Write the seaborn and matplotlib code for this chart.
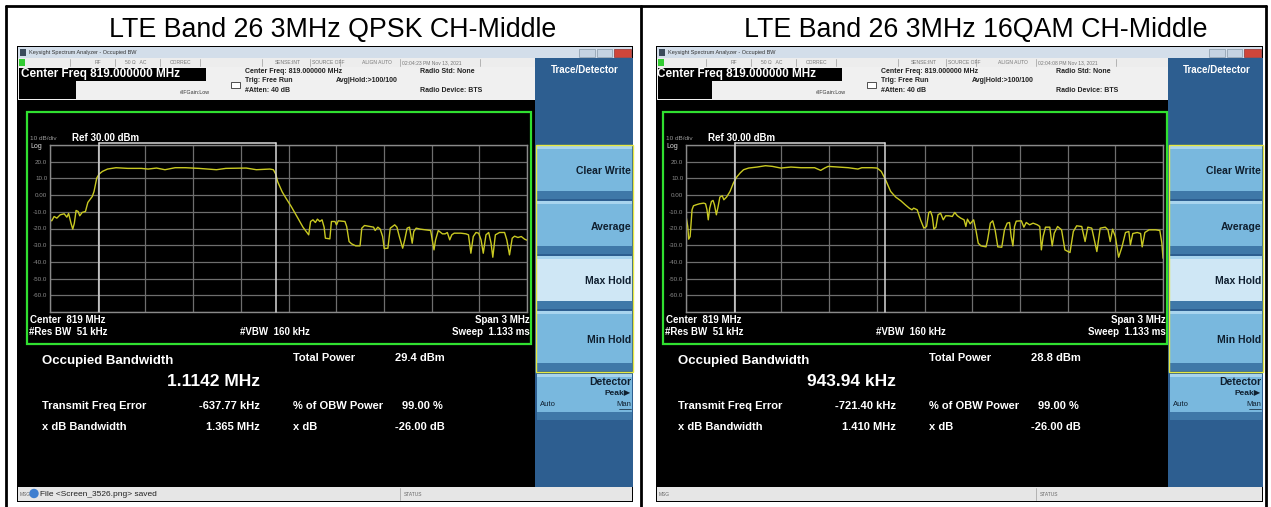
import numpy as np
import pandas as pd
import seaborn as sns
import matplotlib.pyplot as plt
from matplotlib.patches import Rectangle, Circle

sns.set_theme(style='dark')
plt.rcParams['font.family'] = ['Liberation Sans', 'DejaVu Sans']

# chart titles
titles = ['LTE Band 26 3MHz QPSK CH-Middle', 'LTE Band 26 3MHz 16QAM CH-Middle']

# analyzer settings
center_mhz = 819.0
span_mhz = 3.0
ref_dbm = 30.0
db_per_div = 10

qpsk_offset = [-1.500, -1.489, -1.474, -1.457, -1.436, -1.411, -1.394, -1.383, -1.368, -1.357,
               -1.347, -1.336, -1.323, -1.313, -1.298, -1.277, -1.262, -1.234, -1.223, -1.206,
               -1.191, -1.170, -1.138, -1.085, -1.011, -0.926, -0.883, -0.830, -0.777, -0.713,
               -0.649, -0.564, -0.453, -0.394, -0.266, -0.202, -0.117, -0.095, -0.080, -0.068,
               -0.040, -0.015, 0.017, 0.059, 0.091, 0.127, 0.139, 0.154, 0.169, 0.182,
               0.197, 0.211, 0.224, 0.232, 0.260, 0.270, 0.292, 0.302, 0.313, 0.355,
               0.366, 0.381, 0.397, 0.423, 0.450, 0.461, 0.478, 0.513, 0.535, 0.545,
               0.562, 0.577, 0.592, 0.602, 0.625, 0.640, 0.668, 0.682, 0.697, 0.718,
               0.731, 0.746, 0.761, 0.778, 0.788, 0.803, 0.830, 0.862, 0.894, 0.904,
               0.915, 0.925, 0.942, 0.968, 0.985, 0.999, 1.014, 1.027, 1.042, 1.084,
               1.116, 1.132, 1.147, 1.162, 1.179, 1.196, 1.211, 1.225, 1.242, 1.259,
               1.274, 1.285, 1.301, 1.327, 1.359, 1.373, 1.390, 1.407, 1.422, 1.443,
               1.464, 1.485, 1.500]
qpsk_level = [-14.8, -15.4, -12.8, -13.8, -11.8, -11.2, -13.2, -11.0, -16.8, -20.4,
              -16.8, -9.2, -9.8, -12.4, -10.4, -9.8, -4.4, -0.8, 2.2, 10.2,
              12.6, 14.2, 15.6, 16.4, 16.0, 16.0, 15.6, 16.2, 15.2, 16.4,
              16.4, 16.0, 15.2, 16.0, 16.2, 15.2, 15.6, 15.2, 12.5, 8.0,
              2.0, -2.0, -6.8, -13.8, -19.2, -23.8, -15.8, -14.8, -16.4, -14.4,
              -15.8, -14.8, -19.2, -25.8, -26.2, -15.8, -15.8, -17.8, -15.4, -15.8,
              -18.8, -27.8, -29.2, -30.4, -30.4, -19.8, -18.2, -18.8, -19.2, -21.2,
              -19.2, -20.4, -24.8, -32.0, -31.8, -19.8, -17.8, -19.2, -24.8, -31.8,
              -26.8, -19.8, -19.2, -28.8, -21.8, -19.8, -20.4, -20.8, -21.2, -26.8,
              -32.8, -26.8, -21.2, -23.2, -23.2, -22.4, -26.8, -23.8, -22.8, -22.8,
              -23.2, -23.8, -34.8, -24.8, -22.4, -22.8, -26.8, -34.8, -23.8, -22.4,
              -28.8, -37.2, -23.8, -22.4, -22.4, -26.8, -35.8, -25.8, -24.6, -25.4,
              -24.8, -26.4, -27.0]

qam_offset = [-1.500, -1.489, -1.483, -1.474, -1.462, -1.453, -1.436, -1.415, -1.389, -1.377,
              -1.368, -1.360, -1.351, -1.340, -1.330, -1.321, -1.309, -1.298, -1.287, -1.272,
              -1.262, -1.245, -1.223, -1.202, -1.181, -1.160, -1.138, -1.106, -1.053, -1.000,
              -0.957, -0.904, -0.840, -0.777, -0.691, -0.653, -0.628, -0.606, -0.543, -0.479,
              -0.419, -0.394, -0.330, -0.298, -0.272, -0.245, -0.213, -0.181, -0.149, -0.121,
              -0.096, -0.079, -0.068, -0.046, -0.025, -0.004, 0.013, 0.027, 0.038, 0.049,
              0.059, 0.072, 0.085, 0.101, 0.118, 0.133, 0.154, 0.175, 0.190, 0.207,
              0.228, 0.249, 0.260, 0.270, 0.287, 0.309, 0.323, 0.338, 0.355, 0.387,
              0.397, 0.414, 0.429, 0.444, 0.461, 0.486, 0.503, 0.520, 0.535, 0.545,
              0.556, 0.566, 0.577, 0.609, 0.625, 0.640, 0.661, 0.683, 0.710, 0.725,
              0.735, 0.746, 0.761, 0.788, 0.803, 0.816, 0.837, 0.862, 0.883, 0.915,
              0.936, 0.957, 0.989, 1.010, 1.027, 1.052, 1.084, 1.105, 1.137, 1.154,
              1.168, 1.183, 1.200, 1.221, 1.242, 1.264, 1.285, 1.295, 1.310, 1.338,
              1.359, 1.369, 1.386, 1.412, 1.454, 1.480, 1.493, 1.500]
qam_level = [-12.4, -18.8, -26.4, -24.8, -8.8, -6.4, -5.8, -5.2, -4.8, -5.2,
             -8.8, -14.8, -7.8, -3.8, -3.2, -5.8, -11.8, -6.8, -1.2, -0.4,
             -2.8, -1.2, 2.2, 7.2, 10.8, 13.2, 15.2, 16.2, 16.8, 17.6,
             17.2, 16.2, 16.8, 16.4, 16.4, 14.8, 16.2, 17.2, 16.8, 16.4,
             15.6, 16.4, 16.4, 16.2, 14.2, 9.2, 2.2, -1.2, -3.4, -5.8,
             -7.8, -8.8, -7.8, -8.8, -14.8, -19.8, -18.8, -10.4, -9.8, -12.8,
             -20.4, -19.2, -11.8, -10.8, -14.8, -12.4, -12.4, -12.8, -10.4, -12.4,
             -13.8, -14.8, -18.8, -14.4, -17.2, -14.8, -20.8, -28.8, -30.4, -31.0,
             -26.8, -16.8, -15.4, -20.8, -31.0, -31.2, -20.8, -16.8, -16.4, -24.8,
             -30.4, -18.8, -15.6, -15.4, -19.2, -16.4, -17.8, -16.8, -17.8, -18.8,
             -32.8, -24.8, -19.2, -19.2, -30.4, -22.8, -18.8, -20.8, -32.8, -34.4,
             -21.8, -18.4, -18.8, -27.8, -19.2, -19.8, -33.8, -19.8, -19.2, -20.8,
             -27.8, -20.4, -24.8, -37.2, -31.0, -22.4, -21.8, -29.8, -23.0, -22.4,
             -23.0, -31.0, -22.4, -20.8, -20.8, -21.2, -28.8, -37.8]

# measurement results
obw_khz = [1114.2, 943.94]
freq_err_khz = [-637.77, -721.40]
obw_text = ['1.1142 MHz', '943.94 kHz']
err_text = ['-637.77 kHz', '-721.40 kHz']
total_power = ['29.4 dBm', '28.8 dBm']
xdb_bw = ['1.365 MHz', '1.410 MHz']
timestamps = ['02:04:23 PM Nov 13, 2021', '02:04:08 PM Nov 13, 2021']
messages = ['File <Screen_3526.png> saved', '']
buttons = ['Clear Write', 'Average', 'Max Hold', 'Min Hold']

traces = [pd.DataFrame({'freq': center_mhz + np.array(qpsk_offset), 'level': qpsk_level}),
          pd.DataFrame({'freq': center_mhz + np.array(qam_offset), 'level': qam_level})]

W, H = 1271, 507
fig = plt.figure(figsize=(W / 100, H / 100), dpi=100)
fig.patch.set_facecolor('white')
bg = fig.add_axes([0, 0, 1, 1])
bg.set_xlim(0, W)
bg.set_ylim(H, 0)
bg.axis('off')


def box(x0, y0, x1, y1, fc, ec='none', lw=0, z=1):
    bg.add_patch(Rectangle((x0, y0), x1 - x0, y1 - y0, facecolor=fc, edgecolor=ec, linewidth=lw, zorder=z))


def txt(x, y, s, size=7, color='white', weight='bold', ha='left', **kw):
    bg.text(x, y, s, fontsize=size, color=color, fontweight=weight, ha=ha, va='center', zorder=6, **kw)


# table lines
for xv in [6, 641, 1266]:
    bg.plot([xv, xv], [6, H], color='black', lw=2, zorder=2)
bg.plot([6, 1266], [6, 6], color='black', lw=2, zorder=2)

# layout per screenshot: main shift, screenshot left edge, soft key panel left/right, graticule right
layouts = [dict(ox=0, left=17, sl=535, sr=633, gr=527, title_x=333),
           dict(ox=636, left=656, sl=1168, sr=1263, gr=1163, title_x=976)]
span_half = span_mhz / 2

for i, lay in enumerate(layouts):
    ox, sl, sr = lay['ox'], lay['sl'], lay['sr']
    txt(lay['title_x'], 30, titles[i], size=19.3, color='black', weight='normal', ha='center')

    # screenshot frame
    box(lay['left'], 46, sr, 502, 'black', z=1)
    # window title bar
    box(lay['left'] + 1, 47, sr - 1, 58, '#d3deea', z=2)
    box(lay['left'] + 3, 49, lay['left'] + 9, 56, '#3a4a5a', z=3)
    txt(lay['left'] + 12, 52.5, 'Keysight Spectrum Analyzer - Occupied BW', size=4, color='#333333', weight='normal')
    box(sr - 54, 48.5, sr - 38, 56.5, '#c5d3e2', ec='#8899aa', lw=0.5, z=3)
    box(sr - 36, 48.5, sr - 21, 56.5, '#c5d3e2', ec='#8899aa', lw=0.5, z=3)
    box(sr - 19, 48.5, sr - 2, 56.5, '#d0463a', ec='#903030', lw=0.5, z=3)

    # status row and info area
    x_in = lay['left'] + 1
    box(x_in, 58, sl, 67, '#ededed', z=2)
    box(x_in + 1, 59, x_in + 7, 66, '#33cc33', z=3)
    for sx in [70, 115, 160, 200, 262, 310, 340, 400, 480]:
        bg.plot([sx + ox, sx + ox], [59, 66], color='#aaaaaa', lw=0.6, zorder=3)
    status_items = [(95, 'RF'), (125, '50 Ω   AC'), (170, 'CORREC'), (275, 'SENSE:INT'),
                    (312, 'SOURCE OFF'), (362, 'ALIGN AUTO'), (402, timestamps[i])]
    for sx, s in status_items:
        txt(sx + ox, 62.5, s, size=3.6, color='#777777', weight='normal')
    box(x_in, 67, sl, 100, '#f0f0f0', z=2)
    box(x_in + 1, 68, 206 + ox, 81, 'black', z=3)
    txt(21 + ox, 74.5, 'Center Freq 819.000000 MHz', size=8.5)
    box(x_in + 1, 81, 76 + ox, 99, 'black', z=3)
    txt(180 + ox, 93, '#IFGain:Low', size=3.8, color='#333333', weight='normal')
    bg.add_patch(Rectangle((231 + ox, 82), 9, 6, facecolor='white', edgecolor='#333333', lw=0.6, zorder=3))
    info_items = [(245, 71.5, 'Center Freq: 819.000000 MHz'), (245, 80, 'Trig: Free Run'),
                  (245, 90, '#Atten: 40 dB'), (336, 80, 'Avg|Hold:>100/100'),
                  (420, 71.5, 'Radio Std: None'), (420, 90.5, 'Radio Device: BTS')]
    for sx, sy, s in info_items:
        txt(sx + ox, sy, s, size=5, color='#222222')

    # main display and green frame
    box(x_in, 100, sl, 486, 'black', z=2)
    box(27 + ox, 112, lay['gr'] + 3.5, 344, 'none', ec='#30e030', lw=1.6, z=4)
    txt(30 + ox, 138, '10 dB/div', size=4.6, color='#9a9a9a', weight='normal')
    txt(72 + ox, 138, 'Ref 30.00 dBm', size=7)
    txt(30 + ox, 147, 'Log', size=5, color='#dddddd', weight='normal')
    txt(30 + ox, 320, 'Center  819 MHz', size=7)
    txt(29 + ox, 332, '#Res BW  51 kHz', size=7)
    txt(275 + ox, 332, '#VBW  160 kHz', size=7, ha='center')
    txt(lay['gr'] + 2.5, 320, 'Span 3 MHz', size=7, ha='right')
    txt(lay['gr'] + 2.5, 332, 'Sweep  1.133 ms', size=7, ha='right')

    # results block
    txt(42 + ox, 361, 'Occupied Bandwidth', size=9.5)
    txt(260 + ox, 382, obw_text[i], size=12.5, ha='right')
    txt(293 + ox, 358, 'Total Power', size=8)
    txt(395 + ox, 358, total_power[i], size=8)
    txt(42 + ox, 406, 'Transmit Freq Error', size=8)
    txt(260 + ox, 406, err_text[i], size=8, ha='right')
    txt(293 + ox, 406, '% of OBW Power', size=8)
    txt(402 + ox, 406, '99.00 %', size=8)
    txt(42 + ox, 427, 'x dB Bandwidth', size=8)
    txt(260 + ox, 427, xdb_bw[i], size=8, ha='right')
    txt(293 + ox, 427, 'x dB', size=8)
    txt(395 + ox, 427, '-26.00 dB', size=8)

    # bottom status bar
    box(x_in, 487, sr - 1, 501, '#e6e6e6', z=2)
    txt(x_in + 2, 494, 'MSG', size=3.5, color='#666666', weight='normal')
    if messages[i]:
        bg.add_patch(Circle((34 + ox, 493.5), 4, color='#3f7fd0', zorder=5))
        txt(40 + ox, 494, messages[i], size=6, color='#222222', weight='normal')
    bg.plot([400 + ox, 400 + ox], [488, 500], color='#aaaaaa', lw=0.6, zorder=3)
    txt(404 + ox, 494, 'STATUS', size=3.5, color='#666666', weight='normal')

    # soft key panel
    box(sl, 58, sr, 487, '#2d5e90', z=2)
    txt((sl + sr) / 2 + 1, 70, 'Trace/Detector', size=7, ha='center')
    keys_top = [146, 201, 256, 311]
    for k, name in enumerate(buttons):
        y0 = keys_top[k]
        y1 = y0 + 53 if k < 3 else y0 + 60
        face = '#cfe7f5' if name == 'Max Hold' else '#79b8de'
        box(sl + 2, y0, sr - 1, y1, face, z=3)
        box(sl + 2, y1 - 8, sr - 1, y1, '#3f78a8', z=3)
        box(sl + 2, y0, sr - 1, y0 + 3, '#a8d4ee', z=3)
        txt(sr - 2, (y0 + y1 - 8) / 2 + 3, name, size=7.5, color='#0f1f2f', ha='right')
    box(sl + 1, 145, sr - 0.5, 372, 'none', ec='#e8e840', lw=1.0, z=4)
    box(sl + 2, 374, sr - 1, 420, '#79b8de', z=3)
    box(sl + 2, 374, sr - 1, 377, '#a8d4ee', z=3)
    box(sl + 2, 412, sr - 1, 420, '#3f78a8', z=3)
    txt(sr - 2, 382, 'Detector', size=7.5, color='#0f1f2f', ha='right')
    txt(sr - 2, 394, 'Peak▶', size=6, color='#0f1f2f', ha='right')
    txt(sl + 5, 405, 'Auto', size=5.5, color='#0f1f2f', weight='normal')
    txt(sr - 2, 405, 'Man', size=5.5, color='#0f1f2f', weight='normal', ha='right')
    bg.plot([sr - 14, sr - 2], [409, 409], color='#0f1f2f', lw=0.5, zorder=6)

    # spectrum graticule
    gx0, gx1, gy0, gy1 = 50 + ox, lay['gr'], 145, 312
    ax = fig.add_axes([gx0 / W, 1 - gy1 / H, (gx1 - gx0) / W, (gy1 - gy0) / H])
    ax.set_facecolor('black')
    ax.set_zorder(5)
    levels = np.arange(ref_dbm - 10 * db_per_div, ref_dbm + 1, db_per_div)
    ax.set_yticks(levels)
    ax.set_yticklabels(['' if v in (levels[0], levels[-1]) else ('0.00' if v == 0 else f'{v:.1f}')
                        for v in levels])
    ax.set_xticks(np.linspace(center_mhz - span_half, center_mhz + span_half, 11))
    ax.set_xticklabels([])
    ax.tick_params(axis='both', length=0, pad=2, labelsize=4.5, labelcolor='#8c8c8c')
    ax.grid(True, color='#6e6e6e', lw=0.9)
    for sp in ax.spines.values():
        sp.set_color('#8a8a8a')
        sp.set_linewidth(1.0)
    sns.lineplot(data=traces[i], x='freq', y='level', ax=ax, color='#c9c922', lw=1.0,
                 estimator=None, sort=False)
    obw_lo = center_mhz + freq_err_khz[i] / 1000 - obw_khz[i] / 2000
    obw_hi = center_mhz + freq_err_khz[i] / 1000 + obw_khz[i] / 2000
    for xm in [obw_lo, obw_hi]:
        ax.plot([xm, xm], [levels[0], ref_dbm + 1.2], color='#d8d8d8', lw=1.1, clip_on=False, zorder=4)
    ax.plot([obw_lo, obw_hi], [ref_dbm + 1.2, ref_dbm + 1.2], color='#d8d8d8', lw=1.1, clip_on=False, zorder=4)
    ax.set_xlim(center_mhz - span_half, center_mhz + span_half)
    ax.set_ylim(levels[0], levels[-1])
    ax.set_xlabel('')
    ax.set_ylabel('')

fig.savefig('out.png', dpi=100)
